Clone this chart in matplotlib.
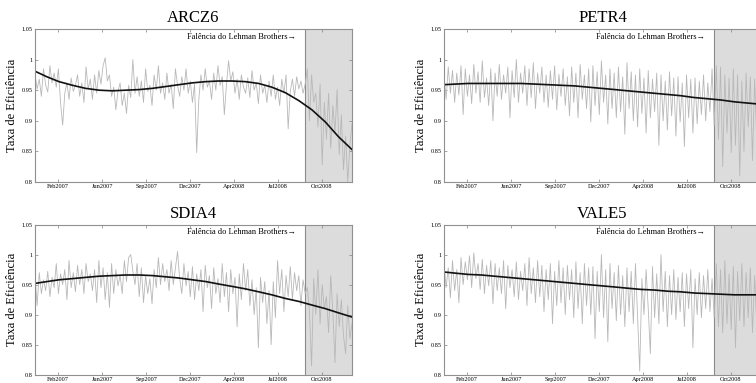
import matplotlib
matplotlib.use('Agg')
import matplotlib.pyplot as plt
import pandas as pd

plt.rcParams['font.family'] = ['Liberation Serif', 'DejaVu Serif']

# eficiencia diaria (amostrada) de cada acao
arcz6 = [0.975, 0.952, 0.968, 0.940, 0.985, 0.958, 0.947, 0.990, 0.962, 0.978,
         0.955, 0.985, 0.930, 0.893, 0.945, 0.962, 0.935, 0.970, 0.948, 0.958,
         0.975, 0.940, 0.962, 0.930, 0.988, 0.952, 0.968, 0.935, 0.975, 0.945,
         0.982, 0.960, 0.990, 1.003, 0.965, 0.975, 0.940, 0.955, 0.918, 0.948,
         0.962, 0.925, 0.945, 0.912, 0.958, 0.938, 1.000, 0.945, 0.972, 0.940,
         0.965, 0.930, 0.985, 0.948, 0.958, 0.925, 0.975, 0.950, 0.990, 0.945,
         0.962, 0.935, 0.978, 0.945, 0.960, 0.920, 0.985, 0.958, 0.940, 0.972,
         0.950, 0.985, 0.945, 0.965, 0.930, 0.960, 0.848, 0.935, 0.975, 0.950,
         0.985, 0.955, 0.965, 0.935, 0.978, 0.950, 0.990, 0.958, 0.972, 0.910,
         0.960, 0.998, 0.965, 0.980, 0.945, 0.968, 0.935, 0.975, 0.955, 0.945,
         0.970, 0.938, 0.982, 0.950, 0.962, 0.928, 0.975, 0.945, 0.958, 0.930,
         0.965, 0.940, 0.975, 0.935, 0.955, 0.925, 0.968, 0.945, 0.975, 0.887,
         0.948, 0.968, 0.940, 0.972, 0.952, 0.965, 0.945, 0.960, 0.985, 0.900,
         0.975, 0.930, 0.945, 0.890, 0.960, 0.828, 0.930, 0.870, 0.945, 0.855,
         0.925, 0.880, 0.951, 0.845, 0.910, 0.820, 0.875, 0.800, 0.860, 0.895]

petr4 = [0.975, 0.935, 0.988, 0.945, 0.982, 0.930, 0.978, 0.942, 0.990, 0.910,
         0.985, 0.940, 0.975, 0.928, 0.992, 0.945, 0.980, 0.930, 0.998, 0.938,
         0.970, 0.925, 0.985, 0.900, 0.978, 0.940, 0.992, 0.935, 0.975, 0.945,
         0.988, 0.905, 0.982, 0.938, 1.000, 0.930, 0.978, 0.945, 0.990, 0.925,
         0.985, 0.938, 0.995, 0.920, 0.978, 0.945, 0.988, 0.930, 0.975, 0.922,
         0.982, 0.935, 0.990, 0.918, 0.976, 0.940, 0.985, 0.925, 0.972, 0.908,
         0.988, 0.930, 0.978, 0.905, 0.992, 0.935, 0.975, 0.920, 0.985, 0.898,
         0.990, 0.925, 0.980, 0.910, 0.998, 0.930, 0.975, 0.895, 0.985, 0.920,
         0.978, 0.905, 0.988, 0.915, 0.972, 0.878, 0.995, 0.920, 0.980, 0.900,
         0.975, 0.890, 0.985, 0.912, 0.970, 0.880, 0.982, 0.905, 0.968, 0.915,
         0.978, 0.860, 0.975, 0.900, 0.965, 0.885, 0.980, 0.908, 0.970, 0.875,
         0.972, 0.898, 0.962, 0.858, 0.975, 0.905, 0.968, 0.880, 0.970, 0.895,
         0.965, 0.910, 0.975, 0.900, 0.962, 0.915, 0.985, 0.892, 0.990, 0.870,
         0.988, 0.825, 0.975, 0.880, 0.970, 0.848, 0.985, 0.860, 0.975, 0.810,
         0.965, 0.850, 0.978, 0.890, 0.972, 0.835, 0.968, 0.870, 0.975, 0.880]

sdia4 = [0.965, 0.915, 0.970, 0.935, 0.958, 0.940, 0.972, 0.930, 0.962, 0.945,
         0.985, 0.935, 0.968, 0.950, 0.975, 0.925, 0.990, 0.945, 0.970, 0.938,
         0.982, 0.950, 0.975, 0.935, 0.985, 0.955, 0.968, 0.940, 0.975, 0.920,
         0.990, 0.945, 0.978, 0.925, 0.970, 0.912, 0.985, 0.935, 0.975, 0.948,
         0.965, 0.935, 0.990, 0.955, 0.995, 1.000, 0.972, 0.950, 0.985, 0.930,
         0.978, 0.920, 0.965, 0.935, 0.960, 0.918, 0.975, 0.945, 0.995, 0.950,
         0.985, 0.955, 0.975, 0.940, 0.990, 0.950, 0.978, 1.005, 0.960, 0.935,
         0.985, 0.948, 0.972, 0.930, 0.980, 0.925, 0.968, 0.940, 0.975, 0.905,
         0.982, 0.945, 0.965, 0.910, 0.978, 0.935, 0.960, 0.920, 0.985, 0.930,
         0.970, 0.905, 0.975, 0.935, 0.962, 0.880, 0.968, 0.925, 0.985, 0.940,
         0.975, 0.915, 0.958, 0.900, 0.945, 0.845, 0.962, 0.920, 0.955, 0.885,
         0.940, 0.850, 0.955, 0.895, 0.990, 0.935, 0.975, 0.905, 0.965, 0.930,
         0.980, 0.925, 0.970, 0.940, 0.965, 0.915, 0.958, 0.935, 0.945, 0.905,
         0.815, 0.960, 0.900, 0.975, 0.885, 0.950, 0.910, 0.930, 0.870, 0.965,
         0.905, 0.820, 0.935, 0.880, 0.925, 0.865, 0.835, 0.915, 0.860, 0.885]

vale5 = [0.985, 0.945, 0.978, 0.928, 0.990, 0.940, 0.975, 0.920, 0.995, 0.950,
         0.988, 0.958, 0.998, 0.945, 1.003, 0.960, 0.985, 0.942, 0.992, 0.935,
         0.982, 0.948, 0.990, 0.918, 0.985, 0.940, 0.978, 0.935, 0.990, 0.910,
         0.982, 0.945, 0.975, 0.930, 0.988, 0.925, 0.972, 0.940, 0.985, 0.915,
         0.995, 0.935, 0.978, 0.920, 0.990, 0.930, 0.982, 0.905, 0.975, 0.925,
         0.985, 0.885, 0.972, 0.915, 0.990, 0.920, 0.978, 0.900, 0.982, 0.925,
         0.975, 0.895, 0.988, 0.910, 0.970, 0.885, 0.985, 0.915, 0.978, 0.900,
         0.980, 0.860, 0.972, 0.905, 1.000, 0.895, 0.975, 0.855, 0.985, 0.910,
         0.970, 0.890, 0.982, 0.900, 0.965, 0.880, 0.978, 0.905, 0.972, 0.885,
         0.985, 0.895, 0.806, 0.960, 0.900, 0.975, 0.910, 0.835, 0.980, 0.895,
         0.968, 0.885, 1.000, 0.905, 0.972, 0.880, 0.965, 0.900, 0.975, 0.892,
         0.962, 0.905, 0.970, 0.880, 0.968, 0.910, 0.975, 0.845, 0.960, 0.900,
         0.970, 0.895, 0.965, 0.910, 0.975, 0.905, 0.960, 0.895, 0.985, 0.880,
         0.975, 0.870, 0.990, 0.885, 0.968, 0.875, 0.980, 0.845, 0.972, 0.890,
         0.985, 0.880, 0.970, 0.895, 0.978, 0.870, 0.965, 0.885, 0.975, 0.860]

# curvas de tendencia (mensal, jan/2007 a jan/2009)
fit_arcz6 = [0.981, 0.972, 0.964, 0.958, 0.953, 0.950, 0.949, 0.950, 0.951, 0.953,
             0.956, 0.959, 0.962, 0.964, 0.965, 0.965, 0.964, 0.961, 0.955, 0.946,
             0.933, 0.918, 0.898, 0.874, 0.853]
fit_petr4 = [0.959, 0.960, 0.961, 0.961, 0.961, 0.961, 0.961, 0.960, 0.959, 0.958,
             0.957, 0.955, 0.953, 0.951, 0.949, 0.947, 0.945, 0.943, 0.941, 0.938,
             0.936, 0.934, 0.931, 0.929, 0.927]
fit_sdia4 = [0.952, 0.955, 0.958, 0.960, 0.962, 0.964, 0.965, 0.966, 0.966, 0.965,
             0.963, 0.961, 0.958, 0.955, 0.951, 0.947, 0.943, 0.938, 0.933, 0.927,
             0.922, 0.916, 0.910, 0.903, 0.896]
fit_vale5 = [0.971, 0.969, 0.967, 0.966, 0.964, 0.962, 0.960, 0.958, 0.956, 0.954,
             0.952, 0.950, 0.948, 0.946, 0.944, 0.942, 0.941, 0.939, 0.938, 0.936,
             0.935, 0.934, 0.933, 0.933, 0.933]

nomes = ['ARCZ6', 'PETR4', 'SDIA4', 'VALE5']
series = [arcz6, petr4, sdia4, vale5]
fits = [fit_arcz6, fit_petr4, fit_sdia4, fit_vale5]

tick_datas = ['2007-02-27', '2007-06-08', '2007-09-17', '2007-12-27',
              '2008-04-06', '2008-07-15', '2008-10-24']
tick_labels = ['Feb2007', 'Jun2007', 'Sep2007', 'Dec2007', 'Apr2008', 'Jul2008', 'Oct2008']

inicio = pd.Timestamp('2007-01-05')
fim = pd.Timestamp('2009-01-01')
lehman = pd.Timestamp('2008-09-15')

dias = pd.date_range(inicio, fim, periods=len(arcz6))
meses = [inicio] + list(pd.date_range('2007-02-01', '2008-12-01', freq='MS')) + [fim]

fig = plt.figure(figsize=(7.56, 3.83), dpi=100)
posicoes = [[0.0463, 0.5248, 0.4193, 0.3995],
            [0.5873, 0.5248, 0.4193, 0.3995],
            [0.0463, 0.0217, 0.4193, 0.3920],
            [0.5873, 0.0217, 0.4193, 0.3920]]

for k in range(4):
    ax = fig.add_axes(posicoes[k])
    ax.axvspan(lehman, fim, color='#dcdcdc', lw=0)
    ax.axvline(lehman, color='#8a8a8a', lw=0.8)
    ax.plot(dias, series[k], color='#b8b8b8', lw=0.6)
    ax.plot(meses, fits[k], color='#111111', lw=1.2)
    ax.set_xlim(inicio, fim)
    ax.set_ylim(0.8, 1.05)
    ax.set_yticks([0.8, 0.85, 0.9, 0.95, 1.0, 1.05])
    ax.set_yticklabels(['0.8', '0.85', '0.9', '0.95', '1', '1.05'])
    ax.set_xticks(pd.to_datetime(tick_datas))
    ax.set_xticklabels(tick_labels)
    ax.tick_params(direction='in', length=2.5, width=0.5, colors='#808080',
                   labelcolor='black', labelsize=4.5, pad=1.5,
                   top=True, right=True)
    for s in ax.spines.values():
        s.set_color('#909090')
        s.set_linewidth(0.8)
    ax.set_title(nomes[k], fontsize=12, pad=5)
    ax.set_ylabel('Taxa de Eficiência', fontsize=9, labelpad=3)
    ax.text(lehman - pd.Timedelta(days=20), 1.0375, 'Falência do Lehman Brothers→',
            fontsize=6, ha='right', va='center')

fig.savefig('out.png', dpi=100)
